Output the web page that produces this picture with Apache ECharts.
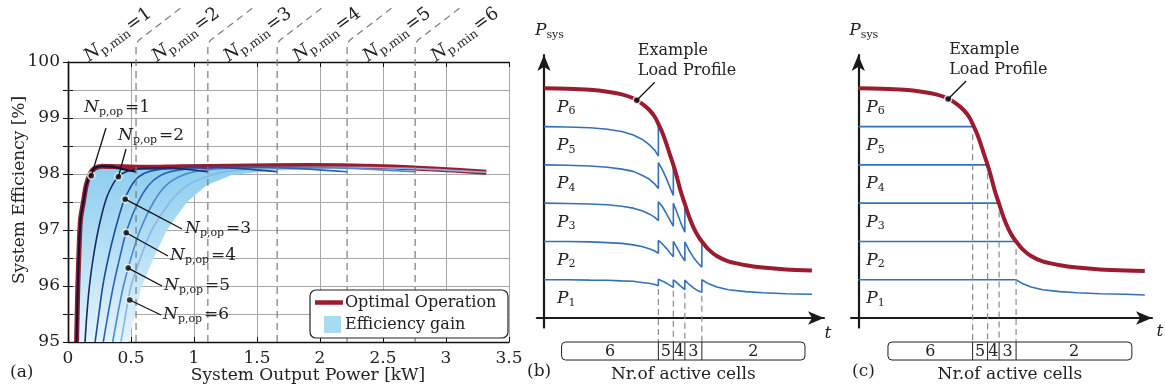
<!DOCTYPE html>
<html lang="en">
<head>
<meta charset="UTF-8">
<title>System efficiency and cell power sharing</title>
<style>html,body{margin:0;padding:0;background:#fff;}</style>
</head>
<body>
<div id="main" style="width:1166px;height:392px;"></div>
<script src="https://cdn.jsdelivr.net/npm/echarts@6/dist/echarts.min.js"></script>
<script>
// (a) system efficiency [%] vs output power [kW], one curve per N_p,op
var effN1 = [[0.068,95],[0.078,96],[0.09,96.8],[0.1,97.2],[0.122,97.5],[0.145,97.8],[0.175,98.0],[0.21,98.1],[0.27,98.14],[0.35,98.13],[0.45,98.08],[0.54,98.04]];
var effN2 = [[0.135,95],[0.15,95.5],[0.17,96],[0.2,96.5],[0.24,97],[0.295,97.5],[0.34,97.75],[0.4,97.95],[0.47,98.05],[0.6,98.1],[0.8,98.11],[0.95,98.08],[1.11,98.04]];
var effN3 = [[0.215,95],[0.245,95.5],[0.276,96],[0.32,96.5],[0.374,97],[0.44,97.5],[0.5,97.78],[0.56,97.95],[0.65,98.05],[0.8,98.1],[1.05,98.12],[1.35,98.1],[1.66,98.04]];
var effN4 = [[0.28,95],[0.318,95.5],[0.36,96],[0.41,96.5],[0.467,97],[0.557,97.5],[0.64,97.8],[0.73,97.97],[0.85,98.06],[1.05,98.11],[1.4,98.12],[1.8,98.1],[2.215,98.04]];
var effN5 = [[0.355,95],[0.395,95.5],[0.44,96],[0.5,96.5],[0.573,97],[0.68,97.5],[0.78,97.8],[0.9,97.97],[1.05,98.06],[1.3,98.11],[1.75,98.12],[2.25,98.1],[2.755,98.04]];
var effN6 = [[0.42,95],[0.458,95.5],[0.5,96],[0.575,96.5],[0.665,97],[0.81,97.5],[0.95,97.8],[1.12,97.97],[1.3,98.06],[1.6,98.1],[2.1,98.12],[2.7,98.1],[3.32,98.03]];
var effOptimal = [[0.068,95],[0.078,96],[0.09,96.8],[0.1,97.2],[0.122,97.5],[0.145,97.8],[0.175,98.0],[0.21,98.1],[0.27,98.14],[0.4,98.13],[0.6,98.12],[0.9,98.13],[1.3,98.14],[1.9,98.15],[2.5,98.13],[2.9,98.09],[3.32,98.03]];
// right edge of the shaded efficiency gain
var gainEdge = [[0.48,95],[0.53,95.5],[0.586,96],[0.68,96.5],[0.785,97],[0.944,97.5],[1.1,97.8],[1.3,97.98],[1.6,98.06],[2.1,98.1]];
var nMinLimits = [0.54, 1.11, 1.66, 2.215, 2.755];
var opDots = [[0.185,97.97],[0.4,97.95],[0.454,97.55],[0.462,96.95],[0.478,96.32],[0.49,95.75]];
var xTicksA = [0, 3.5, 0.5];
var yTicksA = [95, 100, 0.5];

// (b)/(c) load profile and power per cell level
var transitions = [39.7, 44.9, 48.9, 54.8];
var activeCells = ['6', '5', '4', '3', '2'];
var cellBoxB = [6.1, 90.6];
var cellBoxC = [10.3, 95];
var loadB = [[0,6],[8,5.99],[16,5.96],[22,5.91],[27,5.84],[31,5.74],[34,5.6],[36.5,5.44],[38.5,5.25],[39.7,5.07],[41,4.86],[42.5,4.55],[44,4.2],[44.9,4.0],[46,3.72],[47.5,3.3],[48.9,2.98],[50.5,2.62],[52,2.35],[53.5,2.14],[54.8,2.0],[57,1.8],[60,1.62],[64,1.48],[70,1.38],[76,1.32],[84,1.27],[93,1.24]];
var loadC = [[0,6],[8,5.99],[16,5.96],[22,5.91],[27,5.84],[31,5.74],[34,5.6],[36.5,5.44],[38.5,5.25],[39.7,5.07],[41,4.86],[42.5,4.55],[44,4.2],[44.9,4.0],[46,3.72],[47.5,3.3],[48.9,2.98],[50.5,2.62],[52,2.35],[53.5,2.14],[54.8,2.0],[57,1.8],[60,1.62],[64,1.48],[70,1.38],[76,1.32],[84,1.27],[93,1.24],[99.5,1.23]];
var loadDotB = [[32.2, 5.69]];
var loadDotC = [[31.2, 5.72]];
var levelB5 = [[0,5],[8,4.99],[16,4.97],[22,4.93],[27,4.87],[31,4.78],[34,4.67],[36.5,4.53],[38.5,4.38],[39.7,4.23],[39.7,5.07]];
var levelB4 = [[0,4],[8,3.99],[16,3.97],[22,3.94],[27,3.89],[31,3.83],[34,3.73],[36.5,3.63],[38.5,3.5],[39.7,3.38],[39.7,4.06],[41,3.89],[42.5,3.64],[44,3.36],[44.9,3.2],[44.9,4.0]];
var levelB3 = [[0,3],[8,2.99],[16,2.98],[22,2.96],[27,2.92],[31,2.87],[34,2.8],[36.5,2.72],[38.5,2.63],[39.7,2.54],[39.7,3.04],[41,2.92],[42.5,2.73],[44,2.52],[44.9,2.4],[44.9,3.0],[46,2.79],[47.5,2.48],[48.9,2.24],[48.9,2.98]];
var levelB2 = [[0,2],[8,2],[16,1.99],[22,1.97],[27,1.95],[31,1.91],[34,1.87],[36.5,1.81],[38.5,1.75],[39.7,1.69],[39.7,2.03],[41,1.94],[42.5,1.82],[44,1.68],[44.9,1.6],[44.9,2.0],[46,1.86],[47.5,1.65],[48.9,1.49],[48.9,1.99],[50.5,1.75],[52,1.57],[53.5,1.43],[54.8,1.33],[54.8,2.0]];
var levelB1 = [[0,1],[8,1],[16,0.99],[22,0.985],[27,0.97],[31,0.96],[34,0.93],[36.5,0.91],[38.5,0.875],[39.7,0.845],[39.7,1.01],[41,0.97],[42.5,0.91],[44,0.84],[44.9,0.8],[44.9,1.0],[46,0.93],[47.5,0.825],[48.9,0.745],[48.9,0.99],[50.5,0.87],[52,0.78],[53.5,0.71],[54.8,0.67],[54.8,1.0],[57,0.9],[60,0.81],[64,0.74],[70,0.69],[76,0.66],[84,0.635],[93,0.62]];
var levelC5 = [[0,5],[39.7,5]];
var levelC4 = [[0,4],[44.9,4]];
var levelC3 = [[0,3],[48.9,3]];
var levelC2 = [[0,2],[54.8,2]];
var levelC1 = [[0,1],[54.8,1],[57,0.9],[60,0.81],[64,0.74],[70,0.69],[76,0.66],[84,0.635],[93,0.62],[99.5,0.6]];

var FONT = 'DejaVu Serif';
var INK = '#222';
var RED = '#9b1b30';
var BLUE = '#3470b8';
var effColors = ['#0c1633', '#162b63', '#1c4b98', '#2a66b8', '#4a8acd', '#86b6e3'];

var chart = echarts.init(document.getElementById('main'));

function effLine(data, color, width, z) {
    return {type: 'line', xAxisIndex: 0, yAxisIndex: 0, data: data, showSymbol: false, smooth: 0.3,
        lineStyle: {color: color, width: width}, z: z, silent: true};
}
function schemLine(xi, data, color, width, smooth) {
    return {type: 'line', xAxisIndex: xi, yAxisIndex: xi, data: data, showSymbol: false, smooth: smooth,
        lineStyle: {color: color, width: width}, z: 3, silent: true};
}
function frameAxis(pos, ticks, withLabels) {
    return {
        type: 'value', position: pos, min: ticks[0], max: ticks[1], interval: ticks[2],
        axisLine: {show: true, lineStyle: {color: '#111', width: 1.4}},
        axisTick: {show: true, inside: true, length: 5, lineStyle: {color: '#111'}},
        axisLabel: {show: withLabels, color: INK, fontFamily: FONT, fontSize: 17, margin: 8,
            formatter: function (v) { return (pos === 'left' && v % 1 !== 0) ? '' : String(v); }},
        splitLine: {show: withLabels, lineStyle: {color: '#a8a8a8', width: 1}}
    };
}
function arrowAxis(grid, min, max) {
    return {
        type: 'value', gridIndex: grid, min: min, max: max,
        axisLine: {show: true, onZero: true, symbol: ['none', 'arrow'], symbolSize: [10, 16],
            lineStyle: {color: '#1a1a1a', width: 2.2}},
        axisTick: {show: false}, axisLabel: {show: false}, splitLine: {show: false}
    };
}

var gainPolygon = effOptimal.filter(function (p) { return p[0] < 2.1; }).concat(gainEdge.slice().reverse());
var gainFill = new echarts.graphic.LinearGradient(0, 0, 0, 1, [
    {offset: 0, color: '#8ccdef'}, {offset: 1, color: '#e4f4fc'}
]);

var xa0 = frameAxis('bottom', xTicksA, true);
var xa1 = frameAxis('top', xTicksA, false);
var ya0 = frameAxis('left', yTicksA, true);
var ya1 = frameAxis('right', yTicksA, false);

var option = {
    animation: false,
    backgroundColor: '#fff',
    grid: [
        {left: 68, top: 62, width: 441, height: 280},
        {left: 536.8, top: 55, width: 287.2, height: 272.6},
        {left: 851.1, top: 55, width: 300.9, height: 272.6}
    ],
    xAxis: [xa0, xa1, arrowAxis(1, -2.5, 97.2), arrowAxis(2, -2.5, 102)],
    yAxis: [ya0, ya1, arrowAxis(1, -0.25, 6.87), arrowAxis(2, -0.25, 6.87)],
    series: [
        {type: 'custom', xAxisIndex: 0, yAxisIndex: 0, data: [[0, 95]], z: 1, silent: true,
            renderItem: function (params, api) {
                var pts = gainPolygon.map(function (p) { return api.coord(p); });
                return {type: 'polygon', shape: {points: pts}, style: {fill: gainFill}};
            }},
        effLine(effOptimal, RED, 5, 2),
        effLine(effN6, effColors[5], 1.6, 3),
        effLine(effN5, effColors[4], 1.6, 3),
        effLine(effN4, effColors[3], 1.6, 3),
        effLine(effN3, effColors[2], 1.6, 3),
        effLine(effN2, effColors[1], 1.6, 3),
        effLine(effN1, effColors[0], 2, 4),
        {type: 'scatter', xAxisIndex: 0, yAxisIndex: 0, data: opDots, symbolSize: 7, z: 10, silent: true,
            itemStyle: {color: '#111', borderColor: '#fff', borderWidth: 1.5}},

        schemLine(2, levelB1, BLUE, 1.6, false),
        schemLine(2, levelB2, BLUE, 1.6, false),
        schemLine(2, levelB3, BLUE, 1.6, false),
        schemLine(2, levelB4, BLUE, 1.6, false),
        schemLine(2, levelB5, BLUE, 1.6, false),
        schemLine(2, loadB, RED, 4, 0.3),
        {type: 'scatter', xAxisIndex: 2, yAxisIndex: 2, data: loadDotB, symbolSize: 7, z: 10, silent: true,
            itemStyle: {color: '#111', borderColor: '#fff', borderWidth: 1.5}},

        schemLine(3, levelC1, BLUE, 1.6, false),
        schemLine(3, levelC2, BLUE, 1.6, false),
        schemLine(3, levelC3, BLUE, 1.6, false),
        schemLine(3, levelC4, BLUE, 1.6, false),
        schemLine(3, levelC5, BLUE, 1.6, false),
        schemLine(3, loadC, RED, 4, 0.3),
        {type: 'scatter', xAxisIndex: 3, yAxisIndex: 3, data: loadDotC, symbolSize: 7, z: 10, silent: true,
            itemStyle: {color: '#111', borderColor: '#fff', borderWidth: 1.5}}
    ]
};
chart.setOption(option);

// ---------- annotations ----------
function cp(xi, yi, pt) { return chart.convertToPixel({xAxisIndex: xi, yAxisIndex: yi}, pt); }
function mathRich(size, sub) {
    return {
        n: {fontFamily: FONT, fontStyle: 'italic', fontSize: size, lineHeight: size, verticalAlign: 'top', fill: INK},
        s: {fontFamily: FONT, fontSize: sub, lineHeight: sub, padding: [Math.round(size * 0.42), 0, 0, 0], verticalAlign: 'top', fill: INK},
        e: {fontFamily: FONT, fontSize: size, lineHeight: size, verticalAlign: 'top', padding: [0, 0, 0, 2], fill: INK}
    };
}
function txt(x, y, s, extra) {
    var st = {text: s, fill: INK, fontFamily: FONT, fontSize: 17, align: 'left', verticalAlign: 'middle'};
    for (var k in extra || {}) st[k] = extra[k];
    return {type: 'text', x: x, y: y, z: 50, style: st};
}
function mathTxt(x, y, main, sub, tail, size, rot, align) {
    var el = txt(x, y, '{n|' + main + '}{s|' + sub + '}' + (tail ? '{e|' + tail + '}' : ''),
        {rich: mathRich(size, Math.round(size * 0.66)), align: align || 'left'});
    if (rot) el.rotation = rot;
    return el;
}
function seg(x1, y1, x2, y2, stroke, w, dash, z) {
    return {type: 'line', z: z || 20, shape: {x1: x1, y1: y1, x2: x2, y2: y2},
        style: {stroke: stroke, lineWidth: w, lineDash: dash || null}};
}

var gr = [];

// (a) N_p,min boundaries bent over the frame, with rotated labels
var frameTop = cp(0, 0, [0, 100])[1];
var frameBot = cp(0, 0, [0, 95])[1];
var bounds = [0].concat(nMinLimits);
nMinLimits.forEach(function (lim) {
    var x = cp(0, 0, [lim, 95])[0];
    gr.push({type: 'polyline', z: 20, shape: {points: [[x, frameBot], [x, frameTop - 18], [x + 3, frameTop - 22], [x + 46, frameTop - 55]]},
        style: {stroke: '#7a7a7a', lineWidth: 1.2, lineDash: [7, 5], fill: null}});
});
bounds.forEach(function (b, i) {
    var x = cp(0, 0, [b, 95])[0] + 50;
    gr.push(mathTxt(x, 35, 'N', 'p,min', '=' + (i + 1), 18, 36 * Math.PI / 180, 'center'));
});

// (a) N_p,op labels with leader lines
var opAnchors = [[106, 128], [126, 149], [182, 229], [168, 256], [162, 286], [161, 315]];
opDots.forEach(function (d, i) {
    var p = cp(0, 0, d);
    var a = opAnchors[i];
    gr.push(seg(p[0], p[1], a[0], a[1], '#111', 1.3));
});
var opText = [[84, 108], [118, 136], [185, 229], [170, 256], [164, 286], [163, 315]];
opText.forEach(function (t, i) {
    gr.push(mathTxt(t[0], t[1], 'N', 'p,op', '=' + (i + 1), 17));
});

// (a) legend
gr.push({type: 'rect', z: 30, shape: {x: 310, y: 290, width: 198, height: 48, r: 6},
    style: {fill: '#fff', stroke: '#222', lineWidth: 1.2}});
gr.push(seg(315, 302.5, 343, 302.5, RED, 4.5, null, 32));
gr.push({type: 'rect', z: 32, shape: {x: 324, y: 316, width: 17, height: 17}, style: {fill: '#a9dcf3'}});
var lg1 = txt(345, 302.5, 'Optimal Operation', {fontSize: 16});
var lg2 = txt(345, 325, 'Efficiency gain', {fontSize: 16});
lg1.z = 32; lg2.z = 32;
gr.push(lg1, lg2);

// (a) axis names and tag
gr.push({type: 'text', x: 20, y: 190, rotation: Math.PI / 2, z: 50,
    style: {text: 'System Efficiency [%]', fill: INK, fontFamily: FONT, fontSize: 17, align: 'center', verticalAlign: 'middle'}});
gr.push(txt(308, 376, 'System Output Power [kW]', {align: 'center'}));
gr.push(txt(10, 373, '(a)'));

// (b) and (c) schematic decorations
function panelDecor(xi, box, dashTops, pLabelDx, tag, tagX) {
    var o = cp(xi, xi, [0, 0]);
    var axisY = o[1];
    transitions.forEach(function (t, i) {
        var top = cp(xi, xi, [t, dashTops[i]]);
        gr.push(seg(top[0], top[1], top[0], axisY + 24, '#8a8a8a', 1.2, [6, 4]));
    });
    var bx0 = cp(xi, xi, [box[0], 0])[0];
    var bx1 = cp(xi, xi, [box[1], 0])[0];
    gr.push({type: 'rect', z: 20, shape: {x: bx0, y: axisY + 24, width: bx1 - bx0, height: 18, r: 4},
        style: {fill: '#fff', stroke: '#222', lineWidth: 1}});
    var edges = [box[0]].concat(transitions, [box[1]]);
    activeCells.forEach(function (c, i) {
        var xa = cp(xi, xi, [edges[i], 0])[0];
        var xb = cp(xi, xi, [edges[i + 1], 0])[0];
        gr.push(txt((xa + xb) / 2, axisY + 33.5, c, {align: 'center', fontSize: 16}));
        if (i > 0) gr.push(seg(xa, axisY + 24, xa, axisY + 42, '#222', 1, null, 21));
    });
    gr.push(txt((bx0 + bx1) / 2, axisY + 57, 'Nr.of active cells', {align: 'center'}));
    gr.push(txt(tagX, axisY + 54, tag));
    for (var k = 1; k <= 6; k++) {
        var p = cp(xi, xi, [0, k - 0.5]);
        gr.push(mathTxt(p[0] + pLabelDx, p[1], 'P', String(k), '', 17));
    }
    gr.push(mathTxt(o[0] - 9, 31, 'P', 'sys', '', 17));
}
panelDecor(2, cellBoxB, [0.76, 0.71, 0.66, 0.58], 13, '(b)', 527);
panelDecor(3, cellBoxC, [4.8, 3.78, 2.78, 1.8], 8, '(c)', 852);

gr.push(txt(828, 334, 't', {align: 'center', fontStyle: 'italic'}));
gr.push(txt(1160, 332, 't', {align: 'center', fontStyle: 'italic'}));

[[2, loadDotB[0]], [3, loadDotC[0]]].forEach(function (d) {
    var p = cp(d[0], d[0], d[1]);
    gr.push(seg(p[0], p[1], p[0] + 18, p[1] - 18, '#111', 1.3));
    gr.push(txt(p[0] + 1, p[1] - 49.5, 'Example', {fontSize: 16}));
    gr.push(txt(p[0] + 1, p[1] - 29.5, 'Load Profile', {fontSize: 16}));
});

chart.setOption({graphic: {elements: gr}});
</script>
</body>
</html>
